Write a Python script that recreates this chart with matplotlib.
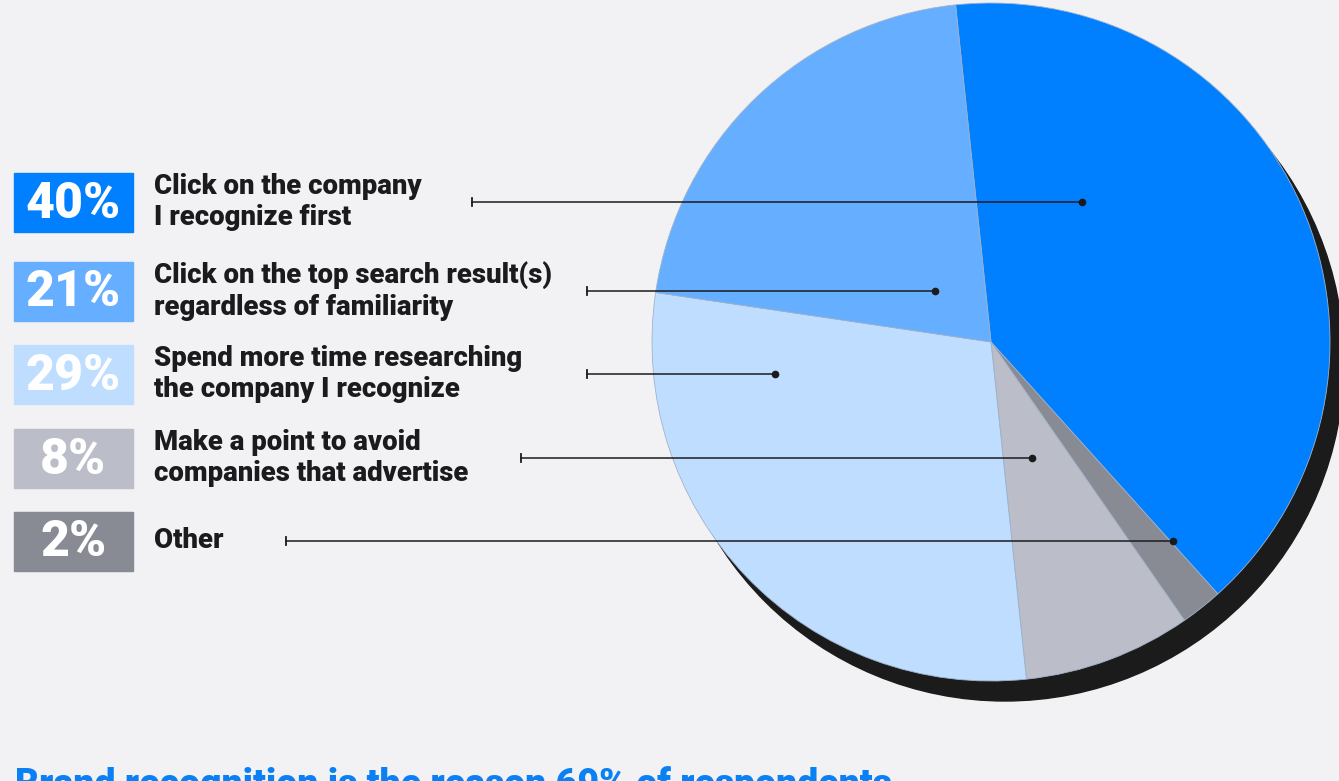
import matplotlib.pyplot as plt
from matplotlib.patches import Circle, Rectangle

# survey answers, in the order they are listed on the left
labels = ["Click on the company\nI recognize first",
          "Click on the top search result(s)\nregardless of familiarity",
          "Spend more time researching\nthe company I recognize",
          "Make a point to avoid\ncompanies that advertise",
          "Other"]
shares = [40, 21, 29, 8, 2]
colors = ["#0080FF", "#66AEFF", "#BFDEFF", "#BBBEC8", "#888B94"]
pie_order = [0, 4, 3, 2, 1]  # clockwise from the top

title = "Brand recognition is the reason 69% of respondents"

W, H = 1339, 781
bg = "#F2F2F4"
ink = "#1B1B1D"

fig = plt.figure(figsize=(W / 100, H / 100), dpi=100, facecolor=bg)
ax = fig.add_axes([0, 0, 1, 1])
ax.set_facecolor(bg)

cx, cy, r = 991, H - 342, 339

# drop shadow under the pie
ax.add_patch(Circle((cx + 14, cy - 20), r, color="#1B1B1B", zorder=1))

wedges, _ = ax.pie([shares[i] for i in pie_order],
                   colors=[colors[i] for i in pie_order],
                   startangle=96, counterclock=False,
                   center=(cx, cy), radius=r,
                   wedgeprops=dict(linewidth=0.6, edgecolor="#9FB3CC"))
for w in wedges:
    w.set_zorder(2)

ax.set_xlim(0, W)
ax.set_ylim(0, H)
ax.set_aspect("equal")
ax.axis("off")

# legend rows: box top, text line start, line end (dot)
box_top = [173, 262, 345, 429, 512]
line_y = [202, 291, 374, 458, 541]
line_x0 = [472, 587, 587, 521, 286]
line_x1 = [1082, 935, 775, 1032, 1173]

for i in range(len(shares)):
    top = H - box_top[i]
    ax.add_patch(Rectangle((14, top - 59), 119, 59, color=colors[i], zorder=3))
    ax.text(73.5, top - 31, f"{shares[i]}%", color="white", fontsize=36,
            fontweight="heavy", family="Roboto", ha="center", va="center",
            zorder=4)
    ax.text(154, top - 29, labels[i], color=ink, fontsize=19.8,
            fontweight="heavy", family="Roboto", ha="left", va="center",
            linespacing=1.2, zorder=4)
    y = H - line_y[i]
    ax.plot([line_x0[i], line_x1[i]], [y, y], color=ink, lw=1.1, zorder=5)
    ax.plot([line_x0[i], line_x0[i]], [y - 4, y + 4], color=ink, lw=1.3, zorder=5)
    ax.plot(line_x1[i], y, "o", color=ink, ms=4.5, zorder=5)

ax.text(15, H - 766, title, color="#0A80F5", fontsize=27, fontweight="heavy",
        family="Roboto", ha="left", va="top", zorder=4)

fig.savefig("out.png", dpi=100, facecolor=bg)
